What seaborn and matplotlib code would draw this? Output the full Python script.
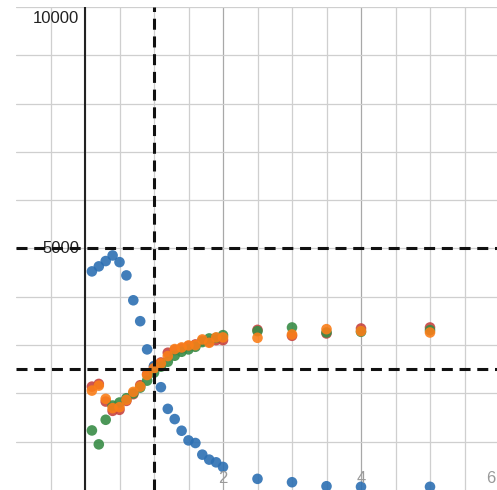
# -*- coding: utf-8 -*-
# scatter of four series with reference lines, desmos-like look

import numpy as np
import pandas as pd
import matplotlib.pyplot as plt
import seaborn as sns

# - data
x_vals = [0.1, 0.2, 0.3, 0.4, 0.5, 0.6, 0.7, 0.8, 0.9, 1.0,
          1.1, 1.2, 1.3, 1.4, 1.5, 1.6, 1.7, 1.8, 1.9, 2.0,
          2.5, 3.0, 3.5, 4.0, 5.0]

red_y = [2140, 2196, 1831, 1639, 1660, 1845, 1983, 2169, 2402, 2553,
         2640, 2842, 2897, 2931, 2979, 3014, 3089, 3068, 3103, 3103,
         3316, 3192, 3241, 3344, 3365]
blue_y = [4526, 4630, 4740, 4856, 4718, 4443, 3928, 3495, 2911, 2567,
          2128, 1680, 1468, 1227, 1027, 973, 732, 629, 573, 478,
          231, 161, 78, 66, 66]
green_y = [1233, 945, 1454, 1749, 1811, 1900, 2000, 2120, 2264, 2429,
           2553, 2656, 2780, 2862, 2911, 2965, 3062, 3138, 3151, 3206,
           3289, 3365, 3261, 3275, 3309]
orange_y = [2058, 2161, 1887, 1694, 1715, 1866, 2031, 2141, 2381, 2520,
            2622, 2773, 2918, 2952, 2993, 3000, 3117, 3048, 3159, 3159,
            3151, 3220, 3330, 3289, 3261]

series = ['red', 'blue', 'green', 'orange']
colours = {'red': '#c74440', 'blue': '#2d70b3', 'green': '#388c46', 'orange': '#fa7e19'}

h_lines = [5000, 2500]
v_lines = [1]

y_labels = [10000, 5000]
x_labels = [2, 4, 6]

df = pd.concat([pd.DataFrame({'x': x_vals, 'y': ys, 's': name})
                for name, ys in zip(series, [red_y, blue_y, green_y, orange_y])],
               ignore_index=True)

sns.set_style('white')
plt.rcParams['font.family'] = ['Liberation Sans', 'DejaVu Sans']

fig = plt.figure(figsize=(4.97, 4.90), dpi=100)
ax = fig.add_axes([16/497, 0, 481/497, 483/490])
ax.set_xlim(-1, 412/69)
ax.set_ylim(0, 10000)

# grid, light lines every 0.5 / 1000, darker ones at labelled x values
for gx in np.arange(-0.5, 6, 0.5):
    c = '#a8a8a8' if gx in (2, 4) else '#cfcfcf'
    ax.axvline(gx, color=c, lw=0.9, zorder=0)
for gy in np.arange(1000, 10001, 1000):
    ax.axhline(gy, color='#cfcfcf', lw=0.9, zorder=0)
ax.axvline(0, color='#222222', lw=1.5, zorder=1)

sns.scatterplot(data=df, x='x', y='y', hue='s', palette=colours, s=58,
                linewidth=0, alpha=0.9, legend=False, ax=ax, zorder=3)

for yy in h_lines:
    ax.axhline(yy, color='#111111', lw=2.2, ls=(0, (3.6, 2.2)), zorder=5)
for xx in v_lines:
    ax.axvline(xx, color='#111111', lw=2.2, ls=(0, (3.6, 2.2)), zorder=5)

# axis labels as desmos draws them
ax.annotate(str(y_labels[0]), xy=(0, y_labels[0]), xytext=(-4, -8),
            textcoords='offset points', ha='right', va='center',
            fontsize=12, color='#222222', zorder=4)
ax.annotate(str(y_labels[1]), xy=(0, y_labels[1]), xytext=(-4, 0),
            textcoords='offset points', ha='right', va='center',
            fontsize=12, color='#222222', zorder=4)
for xl in x_labels[:-1]:
    ax.annotate(str(xl), xy=(xl, 0), xytext=(0, 8), textcoords='offset points',
                ha='center', va='center', fontsize=12, color='#9a9a9a',
                annotation_clip=False, zorder=4)
# last label is pushed inside the right edge
ax.annotate(str(x_labels[-1]), xy=(1, 0), xycoords='axes fraction',
            xytext=(-1, 8), textcoords='offset points', ha='right', va='center',
            fontsize=12, color='#9a9a9a', zorder=4)

ax.set_xlabel('')
ax.set_ylabel('')
ax.set_xticks([])
ax.set_yticks([])
for sp in ax.spines.values():
    sp.set_visible(False)

plt.savefig('out.png', dpi=100)
